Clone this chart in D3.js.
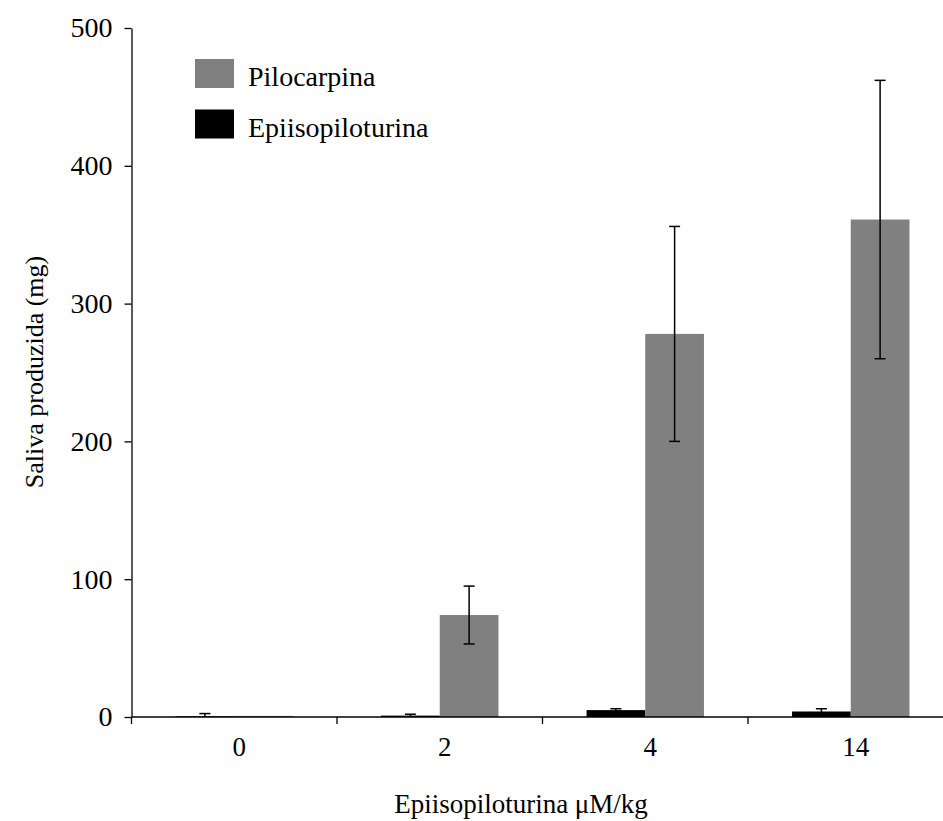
<!DOCTYPE html>
<html>
<head>
<meta charset="utf-8">
<script src="https://cdn.jsdelivr.net/npm/d3@7"></script>
<style>
  body { margin: 0; background: #fff; }
  svg text { font-family: "Liberation Serif"; fill: #000; }
</style>
</head>
<body>
<svg id="chart" width="943" height="821"></svg>
<script>
const categories = ["0", "2", "4", "14"];
const seriesNames = ["Epiisopiloturina", "Pilocarpina"];
const epiValues = [0.5, 1, 5, 4];
const epiErrors = [2, 1, 1, 2];
const piloValues = [0.8, 74, 278, 361];
const piloErrors = [0, 21, 78, 101];
const yTicks = [0, 100, 200, 300, 400, 500];
const legendOrder = ["Pilocarpina", "Epiisopiloturina"];
const colors = { "Epiisopiloturina": "#000000", "Pilocarpina": "#808080" };
const FONT = '"Liberation Serif"';

const svg = d3.select("#chart");
const mLeft = 131.5, mRight = 953.5, mTop = 28, mBottom = 717;

const x = d3.scaleBand().domain(categories).range([mLeft, mRight]).paddingInner(0).paddingOuter(0);
const xs = d3.scaleBand().domain(seriesNames).range([0, x.bandwidth()]).paddingInner(0).paddingOuter(0.75);
const y = d3.scaleLinear().domain([0, 500]).range([mBottom, mTop]);

const data = [];
categories.forEach((c, i) => {
  data.push({ cat: c, s: "Epiisopiloturina", v: epiValues[i], e: epiErrors[i] });
  data.push({ cat: c, s: "Pilocarpina", v: piloValues[i], e: piloErrors[i] });
});

// bars
svg.append("g").selectAll("rect").data(data).join("rect")
  .attr("x", d => x(d.cat) + xs(d.s))
  .attr("width", xs.bandwidth())
  .attr("y", d => y(d.v))
  .attr("height", d => y(0) - y(d.v))
  .attr("fill", d => colors[d.s]);

// error bars
const eb = svg.append("g").attr("stroke", "#000").attr("stroke-width", 1.5);
data.filter(d => d.e > 0).forEach(d => {
  const cx = x(d.cat) + xs(d.s) + xs.bandwidth() / 2;
  const y1 = y(d.v + d.e), y0 = y(Math.max(0, d.v - d.e));
  eb.append("line").attr("x1", cx).attr("x2", cx).attr("y1", y1).attr("y2", y0);
  eb.append("line").attr("x1", cx - 5.5).attr("x2", cx + 5.5).attr("y1", y1).attr("y2", y1);
  if (d.v - d.e > 0) eb.append("line").attr("x1", cx - 5.5).attr("x2", cx + 5.5).attr("y1", y0).attr("y2", y0);
});

// y axis
const yAxis = svg.append("g").attr("transform", `translate(${mLeft},0)`)
  .call(d3.axisLeft(y).tickValues(yTicks).tickSize(7).tickSizeOuter(0).tickPadding(12));
yAxis.attr("font-family", null);
yAxis.select(".domain").attr("stroke", "#000").attr("stroke-width", 1.3);
yAxis.selectAll(".tick line").attr("stroke", "#000").attr("stroke-width", 1.3);
yAxis.selectAll("text").style("font-size", "28px").style("font-family", FONT);

// x axis
const xg = svg.append("g").attr("transform", `translate(0,${mBottom})`);
xg.append("line").attr("x1", mLeft).attr("x2", 943).attr("y1", 0).attr("y2", 0)
  .attr("stroke", "#000").attr("stroke-width", 1.3);
xg.selectAll("line.tk").data(categories).join("line").attr("class", "tk")
  .attr("x1", d => x(d)).attr("x2", d => x(d)).attr("y1", 0).attr("y2", 7)
  .attr("stroke", "#000").attr("stroke-width", 1.3);
xg.selectAll("text").data(categories).join("text")
  .attr("x", d => x(d) + x.bandwidth() / 2 + 5)
  .attr("y", 39)
  .attr("text-anchor", "middle")
  .style("font-size", "27px")
  .style("font-family", FONT)
  .text(d => d);

// axis titles
svg.append("text")
  .attr("transform", `translate(43, 372) rotate(-90)`)
  .attr("text-anchor", "middle")
  .style("font-size", "26px")
  .style("font-family", FONT)
  .text("Saliva produzida (mg)");
svg.append("text")
  .attr("x", 521).attr("y", 813)
  .attr("text-anchor", "middle")
  .style("font-size", "27px")
  .style("font-family", FONT)
  .text("Epiisopiloturina μM/kg");

// legend
const lg = svg.append("g");
legendOrder.forEach((name, i) => {
  const yy = 59 + i * 50.5;
  lg.append("rect").attr("x", 195).attr("y", yy).attr("width", 39).attr("height", 29).attr("fill", colors[name]);
  lg.append("text").attr("x", 248).attr("y", yy + 27).style("font-size", "28px").style("font-family", FONT).text(name);
});
</script>
</body>
</html>
